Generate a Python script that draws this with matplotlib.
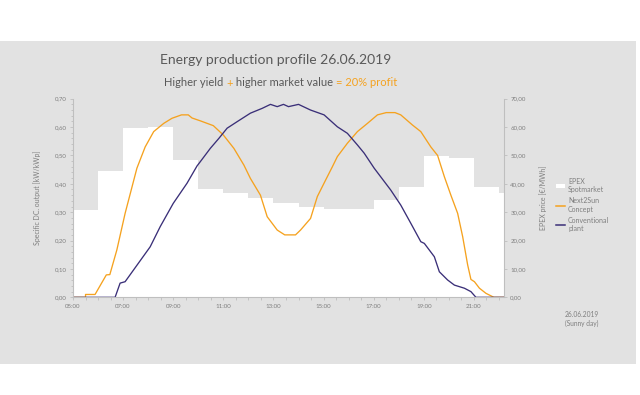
import matplotlib
matplotlib.use("Agg")
import matplotlib.pyplot as plt
import numpy as np
from matplotlib.patches import Rectangle, Patch
from matplotlib.lines import Line2D
from matplotlib.ticker import FuncFormatter, MultipleLocator

# ---------------- data ----------------
epex_hours = [5, 6, 7, 8, 9, 10, 11, 12, 13, 14, 15, 16, 17, 18, 19, 20, 21, 22]
epex_price = [30.8, 44.5, 59.8, 60.1, 48.4, 38.2, 36.6, 35.1, 33.1, 31.9, 31.1, 31.1,
              34.3, 39.0, 49.8, 49.0, 38.8, 36.7]

n2s_hours = [5.0, 5.5, 5.5, 5.88, 6.33, 6.47, 6.75, 7.08, 7.55, 7.88, 8.22, 8.62, 8.95,
             9.33, 9.6, 9.75, 10.08, 10.6, 11.0, 11.42, 11.82, 12.08, 12.48, 12.75,
             13.15, 13.45, 13.88, 14.08, 14.48, 14.75, 15.08, 15.35, 15.55, 15.95,
             16.35, 16.75, 17.15, 17.5, 17.85, 18.08, 18.55, 18.88, 19.28, 19.55,
             19.82, 20.08, 20.35, 20.55, 20.75, 20.88, 21.02, 21.22, 21.48, 21.75,
             21.8, 22.2]
n2s_output = [0.0, 0.0, 0.01, 0.01, 0.079, 0.08, 0.167, 0.296, 0.455, 0.53, 0.584, 0.613,
              0.631, 0.643, 0.643, 0.632, 0.622, 0.605, 0.572, 0.525, 0.466, 0.419, 0.36,
              0.284, 0.237, 0.22, 0.22, 0.237, 0.278, 0.355, 0.413, 0.46, 0.496, 0.543,
              0.584, 0.613, 0.643, 0.651, 0.651, 0.643, 0.607, 0.584, 0.53, 0.50, 0.425,
              0.36, 0.296, 0.214, 0.114, 0.063, 0.055, 0.032, 0.014, 0.002, 0.0, 0.0]

conv_hours = [5.0, 6.68, 6.88, 7.08, 8.08, 8.48, 9.0, 9.55, 9.95, 10.08, 10.48, 10.82,
              11.15, 11.55, 12.08, 12.55, 12.88, 13.15, 13.4, 13.6, 14.0, 14.48, 15.02,
              15.55, 15.95, 16.35, 16.62, 17.02, 17.68, 18.08, 18.48, 18.88, 19.02,
              19.42, 19.62, 19.95, 20.22, 20.62, 20.88, 21.08, 22.2]
conv_output = [0.0, 0.0, 0.05, 0.055, 0.178, 0.249, 0.331, 0.402, 0.463, 0.478, 0.525,
               0.56, 0.596, 0.619, 0.649, 0.666, 0.68, 0.672, 0.68, 0.672, 0.68, 0.66,
               0.643, 0.601, 0.578, 0.537, 0.508, 0.455, 0.378, 0.325, 0.261, 0.196,
               0.19, 0.143, 0.09, 0.061, 0.043, 0.032, 0.02, 0.0, 0.0]

tick_hours = [5, 7, 9, 11, 13, 15, 17, 19, 21]
tick_labels = ["05:00", "07:00", "09:00", "11:00", "13:00", "15:00", "17:00", "19:00", "21:00"]

title = "Energy production profile 26.06.2019"
legend_labels = ["EPEX\nSpotmarket", "Next2Sun\nConcept", "Conventional\nplant"]

# ---------------- style ----------------
BG = "#e2e2e2"
ORANGE = "#f5a21f"
NAVY = "#3a2f78"
TXT = "#595959"
TICK = "#7f7f7f"
AX = "#bfbfbf"
FONT = "Lato"
plt.rcParams["font.family"] = [FONT, "DejaVu Sans"]

X0, X1 = 5.0, 22.2

fig = plt.figure(figsize=(6.4, 3.95), dpi=100)
fig.patch.set_facecolor("white")
fig.patches.append(Rectangle((0, 1 - 364 / 395), 636 / 640, (364 - 41) / 395,
                             transform=fig.transFigure, facecolor=BG, edgecolor="none",
                             zorder=0))

ax = fig.add_axes([73 / 640, 1 - 297.3 / 395, (504 - 73) / 640, (297.3 - 98.7) / 395])
ax.patch.set_alpha(0)
ax2 = ax.twinx()
ax.set_zorder(2)
ax2.set_zorder(1)
ax2.patch.set_alpha(0)

# EPEX area on secondary axis
ex = np.append(epex_hours, X1)
ey = np.append(epex_price, epex_price[-1])
ax2.fill_between(ex, 0, ey, step="post", color="white", linewidth=0)
ax2.set_ylim(0, 70)
ax2.set_xlim(X0, X1)

ax.plot(n2s_hours, n2s_output, color=ORANGE, lw=0.95)
ax.plot(conv_hours, conv_output, color=NAVY, lw=0.95)
ax.set_xlim(X0, X1)
ax.set_ylim(0, 0.70)

comma = lambda v, p: f"{v:.2f}".replace(".", ",")
ax.yaxis.set_major_locator(MultipleLocator(0.1))
ax.yaxis.set_minor_locator(MultipleLocator(0.02))
ax.yaxis.set_major_formatter(FuncFormatter(comma))
ax2.yaxis.set_major_locator(MultipleLocator(10))
ax2.yaxis.set_major_formatter(FuncFormatter(comma))
ax.set_xticks(tick_hours)
ax.set_xticklabels(tick_labels)
ax.xaxis.set_minor_locator(MultipleLocator(0.5))

for a in (ax, ax2):
    for s in a.spines.values():
        s.set_visible(False)
ax.spines["left"].set_visible(True)
ax.spines["bottom"].set_visible(True)
ax2.spines["right"].set_visible(True)
for s in (ax.spines["left"], ax.spines["bottom"], ax2.spines["right"]):
    s.set_color(AX)
    s.set_linewidth(0.8)

ax.tick_params(axis="both", which="both", colors=AX, labelcolor=TICK, labelsize=4.4,
               length=2.5, width=0.6, pad=2)
ax.tick_params(axis="both", which="minor", length=1.8)
ax2.tick_params(axis="y", colors=AX, labelcolor=TICK, labelsize=4.4, length=2.5,
                width=0.6, pad=2)

ax.set_ylabel("Specific DC. output [kW/kWp]", fontsize=5, color=TICK, labelpad=10)
ax2.set_ylabel("EPEX price [€/MWh]", fontsize=5, color=TICK, labelpad=10)

# titles
fig.text(276 / 640, 1 - 60 / 395, title, ha="center", va="center", fontsize=10,
         color=TXT)
parts = [("Higher yield ", TXT), ("+", ORANGE), (" higher market value ", TXT),
         ("= 20% profit", ORANGE)]
renderer = fig.canvas.get_renderer()
texts = []
for s, c in parts:
    t = fig.text(0, 1 - 83 / 395, s, ha="left", va="center", fontsize=8, color=c)
    texts.append(t)
widths = [t.get_window_extent(renderer).width for t in texts]
total = sum(widths)
xs = 280.5 - total / 2
for t, w in zip(texts, widths):
    t.set_x(xs / 640)
    xs += w

# legend
handles = [Patch(facecolor="white", edgecolor="none"),
           Line2D([], [], color=ORANGE, lw=1.1),
           Line2D([], [], color=NAVY, lw=1.1)]
leg = fig.legend(handles, legend_labels, loc="center left",
                 bbox_to_anchor=(550 / 640, 1 - 205 / 395), frameon=False,
                 fontsize=5, labelcolor=TICK, handlelength=1.3, handleheight=0.6,
                 handletextpad=0.4, labelspacing=0.6)

fig.text(582 / 640, 1 - 319 / 395, "26.06.2019\n(Sunny day)", ha="center",
         va="center", fontsize=4.8, color=TICK, linespacing=1.4)

fig.savefig("out.png", dpi=100, facecolor="white")
